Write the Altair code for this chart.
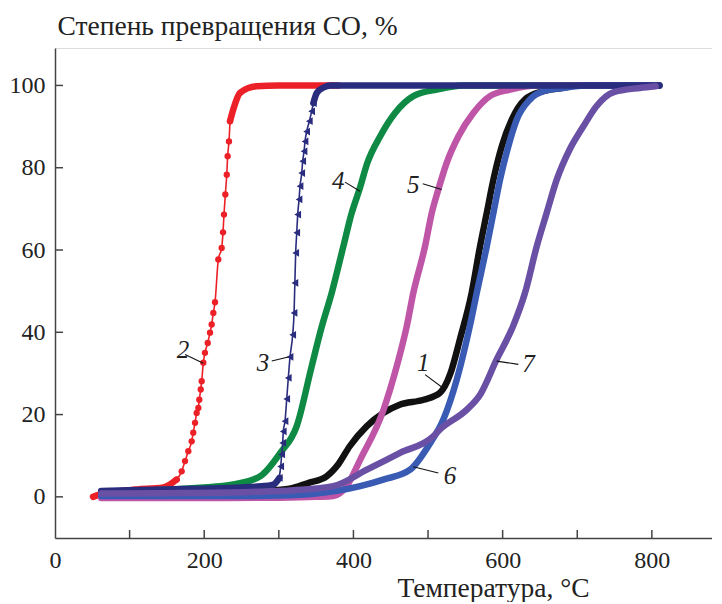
import altair as alt
import pandas as pd

# ---------------- data ----------------
T1 = [62, 100, 150, 200, 250, 290, 319, 340, 364, 380, 395, 418, 440, 462, 494, 516, 530, 543, 558.5, 569.7, 578.7, 587.6, 598.8, 612.2, 630, 654.6, 681, 700, 810]
C1 = [1.0, 1.0, 1.0, 1.0, 1.1, 1.5, 2.2, 3.4, 5.0, 8.0, 12.3, 17.2, 20.4, 22.4, 23.6, 25.3, 30.0, 38.5, 49.6, 60.9, 69.0, 77.1, 85.2, 91.7, 96.6, 98.6, 99.4, 100, 100]

T2 = [51, 60, 80, 110, 145, 154, 163, 169.8, 174.3, 178.7, 183.2, 185.3, 187.7, 189.9, 192.1, 193.4, 195.3, 196.6, 198.8, 201, 204.7, 207.8, 210, 212.2, 214.5, 218.9, 223.4, 225.2, 226.5, 228.3, 230.2, 231.4, 233.2, 234.6, 239, 248, 270, 300, 380]
C2 = [0, 0.6, 1.2, 1.8, 2.3, 3.0, 4.2, 6.2, 8.7, 11.1, 13.5, 15.6, 18.0, 20.4, 21.6, 23.6, 26.1, 28.1, 32.6, 35.0, 37.4, 39.9, 41.9, 44.7, 47.3, 57.7, 60.5, 64.3, 68.6, 73.5, 78.3, 82.8, 86.4, 91.3, 94.2, 98.2, 99.8, 100, 100]

T3 = [62, 100, 150, 200, 250, 285, 293, 300.6, 302.5, 303.9, 305.2, 306, 308.3, 310.6, 312.7, 315, 318.6, 320.4, 321.5, 322.6, 324, 325.3, 327.1, 328.4, 330.7, 332, 333.8, 335.1, 337.3, 340.9, 344, 346.3, 351, 360, 369, 400, 600, 810]
C3 = [1.4, 1.6, 1.8, 2.0, 2.3, 2.7, 3.0, 4.6, 7.4, 10.3, 13.1, 15.9, 18.4, 23.8, 28.9, 34.0, 39.4, 44.7, 52.0, 59.3, 64.2, 68.6, 72.3, 75.5, 78.7, 81.6, 84.0, 86.4, 88.8, 91.3, 93.7, 95.7, 98.2, 99.5, 100, 100, 100, 100]

T4 = [62, 100, 150, 194, 239, 275, 302, 324, 344, 357, 370.9, 386.5, 397.7, 408, 418.7, 435.7, 455.8, 480.3, 511.7, 547, 810]
C4 = [1.3, 1.4, 1.7, 2.2, 3.0, 5.0, 10.7, 17.2, 31.7, 41.0, 49.6, 60.9, 69.0, 74.7, 81.2, 87.6, 93.3, 97.4, 99.0, 100, 100]

T5 = [62, 100, 200, 300, 350, 373, 391, 409, 440, 458, 471.5, 480.3, 496, 505, 513.8, 525, 540.6, 560.7, 583, 610, 646, 810]
C5 = [-0.3, -0.3, -0.3, -0.2, 0.0, 0.2, 2.6, 9.0, 21.0, 31.7, 41.5, 49.6, 60.9, 69.0, 74.7, 81.2, 87.6, 93.3, 97.4, 99.0, 100, 100]

T6 = [62, 150, 250, 300, 350, 409, 440, 476, 503, 520.5, 538.5, 556, 565.3, 578.7, 587.6, 596.5, 607.6, 618.9, 636.7, 654.6, 681, 710, 810]
C6 = [0.2, 0.2, 0.2, 0.3, 0.8, 2.6, 4.2, 6.6, 13.1, 18.8, 28.5, 41.5, 49.6, 60.9, 69.0, 77.1, 85.2, 91.7, 96.6, 98.6, 99.4, 100, 100]

T7 = [62, 150, 262, 320, 373, 418, 462.5, 507, 516, 552, 570, 592, 614, 630, 645.7, 659, 672.5, 690, 708, 726, 748, 784, 805]
C7 = [0.8, 0.9, 1.2, 1.6, 2.6, 6.6, 10.7, 14.7, 16.4, 21.2, 24.9, 33.4, 41.5, 49.6, 60.9, 69.0, 77.1, 84.5, 90.0, 95.0, 98.3, 99.4, 99.8]

SERIES = ["1", "2", "3", "4", "5", "6", "7"]
COLORS = ["#111111", "#EC2027", "#2A2C7E", "#0E8A44", "#BE55A6", "#3A5BB4", "#6A50A4"]
DRAW_ORDER = ["1", "2", "4", "5", "6", "3", "7"]
# steep portion drawn as thin line with markers (series 2 and 3)
STEEP = {"2": (163, 234.6), "3": (300.6, 346.3)}
SHAPES = {"2": "circle", "3": "triangle-left"}
SIZES = {"2": 40, "3": 60}

# curve labels and their leader lines
LAB_TEXT = ["1", "2", "3", "4", "5", "6", "7"]
LAB_T = [493.7, 171.6, 278.8, 379.8, 480.3, 529.5, 634.5]
LAB_C = [32.6, 35.8, 32.6, 76.7, 75.9, 5.0, 32.2]
LEAD_T1 = [496.0, 174.3, 290.5, 388.7, 492.9, 513.8, 621.0]
LEAD_C1 = [29.7, 34.6, 33.0, 76.5, 76.1, 5.8, 32.2]
LEAD_T2 = [522.8, 198.8, 312.7, 408.8, 518.3, 480.3, 592.0]
LEAD_C2 = [26.1, 32.5, 34.0, 74.3, 74.7, 7.3, 33.0]

X_TICKS = [100, 200, 300, 400, 500, 600, 700, 800]
X_LABELS = [0, 200, 400, 600, 800]
Y_TICKS = [0, 20, 40, 60, 80, 100]

# ---------------- build tables ----------------
curves = {"1": (T1, C1), "2": (T2, C2), "3": (T3, C3), "4": (T4, C4),
          "5": (T5, C5), "6": (T6, C6), "7": (T7, C7)}

FONT = "Liberation Serif, Times New Roman, DejaVu Serif, serif"
W, H = 657, 490
xs = alt.Scale(domain=[0, 880.6], nice=False, zero=False)
ys = alt.Scale(domain=[-10, 109.1], nice=False, zero=False)
cs = alt.Scale(domain=SERIES, range=COLORS)

XT = "Температура, °С"
YT = "Степень превращения CO, %"
x_axis = alt.Axis(values=X_LABELS, ticks=False, grid=False, labelFlush=False,
                  labelFont=FONT, labelFontSize=24, labelColor="#222", labelPadding=10,
                  domainColor="#444", domainWidth=1.5,
                  title=XT, titleFont=FONT, titleFontSize=27.5,
                  titleFontWeight="normal", titleColor="#222",
                  titleX=438, titleY=58, titleAlign="center", titleBaseline="alphabetic")
y_axis = alt.Axis(values=Y_TICKS, ticks=False, grid=False,
                  labelFont=FONT, labelFontSize=24, labelColor="#222", labelPadding=10,
                  domainColor="#444", domainWidth=1.5,
                  title=YT, titleFont=FONT, titleFontSize=27.5,
                  titleFontWeight="normal", titleColor="#222", titleAngle=0,
                  titleX=2, titleY=-14, titleAlign="left", titleBaseline="alphabetic")


def X(f):
    return alt.X(f, scale=xs, axis=x_axis, title=XT)


def Y(f):
    return alt.Y(f, scale=ys, axis=y_axis, title=YT)


COLOR = alt.Color("series:N", scale=cs, legend=None)

layers = []
for s in DRAW_ORDER:
    T, C = curves[s]
    rows = []
    thin = pts = None
    if s in STEEP:
        lo, hi = STEEP[s]
        for t, c in zip(T, C):
            if t <= lo:
                rows.append({"T": t, "C": c, "series": s, "grp": s + "a"})
            if t >= hi:
                rows.append({"T": t, "C": c, "series": s, "grp": s + "b"})
        steep = pd.DataFrame([{"T": t, "C": c, "series": s} for t, c in zip(T, C) if lo <= t <= hi])
        thin = alt.Chart(steep).mark_line(strokeWidth=1.6, interpolate="monotone").encode(
            x=X("T:Q"), y=Y("C:Q"), color=COLOR, order="T:Q")
        pts = alt.Chart(steep).mark_point(filled=True, size=SIZES[s], shape=SHAPES[s], opacity=1).encode(
            x=X("T:Q"), y=Y("C:Q"), color=COLOR)
    else:
        rows = [{"T": t, "C": c, "series": s, "grp": s} for t, c in zip(T, C)]
    thick = alt.Chart(pd.DataFrame(rows)).mark_line(
        strokeWidth=6.5, strokeCap="round", strokeJoin="round", interpolate="monotone").encode(
        x=X("T:Q"), y=Y("C:Q"), color=COLOR, detail="grp:N", order="T:Q")
    layers.append(thick)
    if thin is not None:
        layers.append(thin)
        layers.append(pts)

# tick marks pointing inward
xt = pd.DataFrame({"T": X_TICKS})
layers.append(alt.Chart(xt).mark_rule(color="#444", strokeWidth=1.5).encode(
    x=X("T:Q"), y=alt.value(H), y2=alt.value(H - 8)))
yt = pd.DataFrame({"C": Y_TICKS})
layers.append(alt.Chart(yt).mark_rule(color="#444", strokeWidth=1.5).encode(
    y=Y("C:Q"), x=alt.value(0), x2=alt.value(8)))

# leader lines and labels
lead = pd.DataFrame({"T1": LEAD_T1, "C1": LEAD_C1, "T2": LEAD_T2, "C2": LEAD_C2})
layers.append(alt.Chart(lead).mark_rule(color="#111", strokeWidth=1.1).encode(
    x=X("T1:Q"), y=Y("C1:Q"), x2="T2:Q", y2="C2:Q"))
lab = pd.DataFrame({"T": LAB_T, "C": LAB_C, "txt": LAB_TEXT})
layers.append(alt.Chart(lab).mark_text(font=FONT, fontSize=25, fontStyle="italic",
                                       color="#222", align="center", baseline="middle").encode(
    x=X("T:Q"), y=Y("C:Q"), text="txt:N"))

chart = alt.layer(*layers).properties(
    width=W, height=H,
    autosize=alt.AutoSizeParams(type="none"),
    padding={"left": 47, "top": 40, "right": 0, "bottom": 64},
).configure_view(strokeWidth=0, stroke="transparent").configure(
    background="white", font=FONT
).configure_axis(labelFont=FONT, titleFont=FONT)

chart.save("out.html", embed_options={"renderer": "svg", "actions": False})
